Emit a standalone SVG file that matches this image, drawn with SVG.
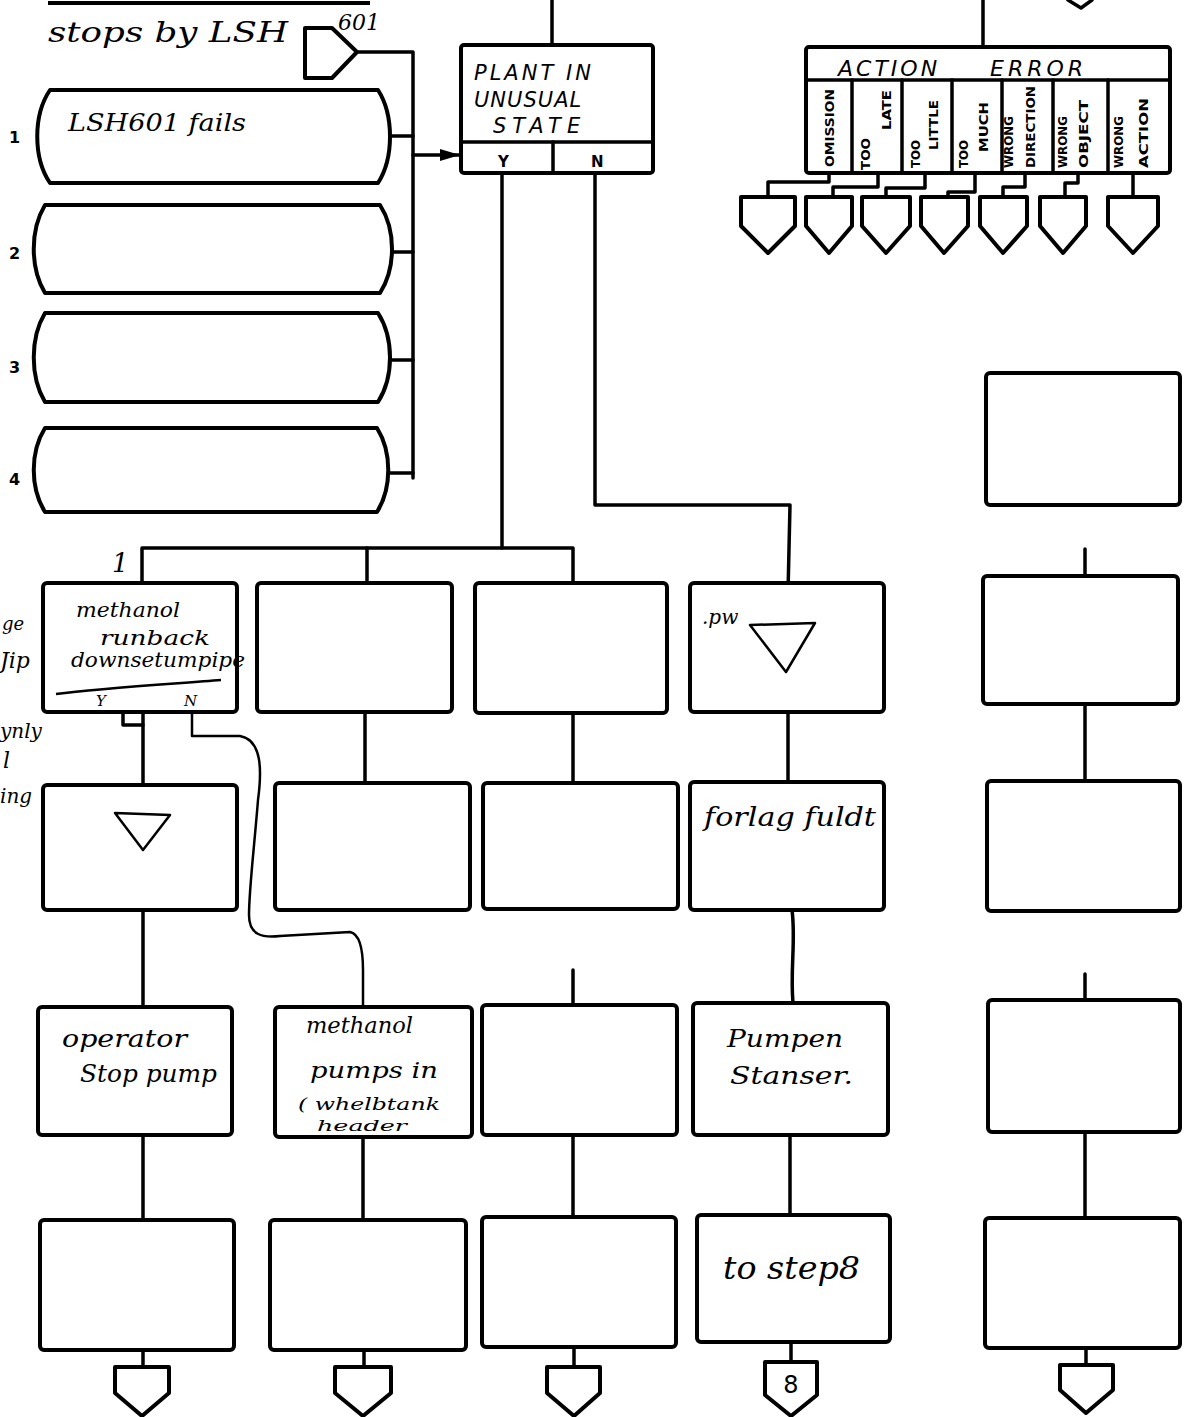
<svg xmlns="http://www.w3.org/2000/svg" width="1187" height="1417" viewBox="0 0 1187 1417">
<defs>
<style>
.b{fill:#fff;stroke:#000;stroke-width:4;stroke-linejoin:round}
.l{fill:none;stroke:#000;stroke-width:3.5;stroke-linejoin:round;stroke-linecap:round}
.t{fill:none;stroke:#000;stroke-width:2.5;stroke-linejoin:round}
.h{font-family:"DejaVu Serif","Liberation Serif",serif;font-style:italic;fill:#000}
.p{font-family:"DejaVu Sans","Liberation Sans",sans-serif;fill:#000}
.v{font-family:"DejaVu Sans","Liberation Sans",sans-serif;font-weight:bold;font-size:12px;fill:#000}
</style>
<marker id="ah" viewBox="0 0 20 12" refX="20" refY="6" markerWidth="20" markerHeight="12" markerUnits="userSpaceOnUse" orient="auto">
<path d="M0,0 L20,6 L0,12 Z" fill="#000"/>
</marker>
</defs>
<rect width="1187" height="1417" fill="#fff"/>

<line x1="48" y1="3" x2="370" y2="3" stroke="#000" stroke-width="4"/>
<text class="h" x="48" y="42" font-size="28" textLength="240" lengthAdjust="spacingAndGlyphs">stops by LSH</text>
<text class="h" x="338" y="30" font-size="22">601</text>

<g id="connectors">
<polyline class="l" points="357,52 413,52 413,478"/>
<line class="l" x1="391" y1="136" x2="413" y2="136"/>
<line class="l" x1="392" y1="252" x2="413" y2="252"/>
<line class="l" x1="390" y1="360" x2="413" y2="360"/>
<line class="l" x1="387" y1="473" x2="413" y2="473"/>
<line class="l" x1="413" y1="155" x2="460" y2="155" marker-end="url(#ah)"/>
<line class="l" x1="552" y1="0" x2="552" y2="45"/>
<polyline class="l" points="502,173 502,548"/>
<polyline class="l" points="142,583 142,548 573,548 573,583"/>
<line class="l" x1="367" y1="548" x2="367" y2="583"/>
<polyline class="l" points="595,173 595,505 790,505 787,637"/>
<line class="l" x1="983" y1="0" x2="983" y2="47"/>
<polyline class="l" points="1068,0 1081,8 1092,0"/>
<polyline class="l" points="829,173 829,182 768,182 768,197"/>
<polyline class="l" points="878,173 878,187 833,187 833,197"/>
<polyline class="l" points="925,173 925,188 886,188 886,197"/>
<polyline class="l" points="975,173 975,192 948,192 948,197"/>
<polyline class="l" points="1025,173 1025,187 1003,187 1003,197"/>
<polyline class="l" points="1078,173 1078,183 1065,183 1065,197"/>
<line class="l" x1="1133" y1="173" x2="1133" y2="197"/>
<line class="l" x1="143" y1="688" x2="143" y2="1007"/>
<polyline class="l" points="123,714 123,725 143,725"/>
<path class="t" d="M192,712 V736 H240 C262,740 262,770 258,800 C254,850 249,890 249,915 C249,935 262,938 280,936 L350,932 C360,934 363,950 363,970 V1007"/>
<line class="l" x1="143" y1="1135" x2="143" y2="1220"/>
<line class="l" x1="143" y1="1350" x2="143" y2="1367"/>
<line class="l" x1="365" y1="712" x2="365" y2="783"/>
<line class="l" x1="363" y1="1137" x2="363" y2="1220"/>
<line class="l" x1="364" y1="1350" x2="364" y2="1367"/>
<line class="l" x1="573" y1="713" x2="573" y2="783"/>
<line class="l" x1="573" y1="970" x2="573" y2="1005"/>
<line class="l" x1="573" y1="1135" x2="573" y2="1217"/>
<line class="l" x1="574" y1="1347" x2="574" y2="1367"/>
<line class="l" x1="788" y1="712" x2="788" y2="782"/>
<path class="l" d="M792,910 C796,940 790,970 793,1003"/>
<line class="l" x1="790" y1="1135" x2="790" y2="1215"/>
<line class="l" x1="791" y1="1342" x2="791" y2="1362"/>
<line class="l" x1="1085" y1="549" x2="1085" y2="576"/>
<line class="l" x1="1085" y1="704" x2="1085" y2="781"/>
<line class="l" x1="1085" y1="974" x2="1085" y2="1000"/>
<line class="l" x1="1085" y1="1132" x2="1085" y2="1218"/>
<line class="l" x1="1086" y1="1348" x2="1086" y2="1365"/>
</g>

<g id="offpage-601">
<path class="b" d="M305,28 H332 L357,52 L332,78 H305 Z"/>
</g>

<g id="input-1">
<path class="b" d="M50,90 H378 C394,115 394,158 378,183 H50 C33,158 33,115 50,90 Z"/>
<text class="p" x="9" y="143" font-size="16" font-weight="bold">1</text>
<text class="h" x="68" y="131" font-size="24" textLength="178" lengthAdjust="spacingAndGlyphs">LSH601   fails</text>
</g>
<g id="input-2">
<path class="b" d="M45,205 H380 C396,230 396,268 380,293 H45 C30,268 30,230 45,205 Z"/>
<text class="p" x="9" y="259" font-size="16" font-weight="bold">2</text>
</g>
<g id="input-3">
<path class="b" d="M45,313 H378 C394,338 394,377 378,402 H45 C30,377 30,338 45,313 Z"/>
<text class="p" x="9" y="373" font-size="16" font-weight="bold">3</text>
</g>
<g id="input-4">
<path class="b" d="M45,428 H377 C392,452 392,488 377,512 H45 C30,488 30,452 45,428 Z"/>
<text class="p" x="9" y="485" font-size="16" font-weight="bold">4</text>
</g>

<g id="plant-state">
<rect class="b" x="461" y="45" width="192" height="128" rx="3"/>
<line class="l" x1="461" y1="142" x2="653" y2="142"/>
<line class="l" x1="553" y1="142" x2="553" y2="173"/>
<text class="p" x="474" y="80" font-size="21" letter-spacing="3" font-style="italic">PLANT IN</text>
<text class="p" x="474" y="107" font-size="21" letter-spacing="1" font-style="italic">UNUSUAL</text>
<text class="p" x="493" y="133" font-size="21" letter-spacing="6" font-style="italic">STATE</text>
<text class="p" x="498" y="167" font-size="15" font-weight="bold">Y</text>
<text class="p" x="591" y="167" font-size="15" font-weight="bold">N</text>
</g>

<g id="action-error">
<rect class="b" x="806" y="47" width="364" height="126" rx="3"/>
<line class="l" x1="806" y1="80" x2="1170" y2="80"/>
<line class="l" x1="852" y1="80" x2="852" y2="173"/>
<line class="l" x1="902" y1="80" x2="902" y2="173"/>
<line class="l" x1="952" y1="80" x2="952" y2="173"/>
<line class="l" x1="1002" y1="80" x2="1002" y2="173"/>
<line class="l" x1="1053" y1="80" x2="1053" y2="173"/>
<line class="l" x1="1108" y1="80" x2="1108" y2="173"/>
<text class="p" x="838" y="76" font-size="22" letter-spacing="3" font-style="italic">ACTION</text>
<text class="p" x="990" y="76" font-size="22" letter-spacing="4" font-style="italic">ERROR</text>
<text class="v" transform="translate(834,167) rotate(-90)" textLength="78" lengthAdjust="spacingAndGlyphs">OMISSION</text>
<text class="v" transform="translate(870,170) rotate(-90)" textLength="32" lengthAdjust="spacingAndGlyphs">TOO</text>
<text class="v" transform="translate(891,130) rotate(-90)" textLength="40" lengthAdjust="spacingAndGlyphs">LATE</text>
<text class="v" transform="translate(920,168) rotate(-90)" textLength="28" lengthAdjust="spacingAndGlyphs">TOO</text>
<text class="v" transform="translate(938,150) rotate(-90)" textLength="50" lengthAdjust="spacingAndGlyphs">LITTLE</text>
<text class="v" transform="translate(968,168) rotate(-90)" textLength="28" lengthAdjust="spacingAndGlyphs">TOO</text>
<text class="v" transform="translate(988,152) rotate(-90)" textLength="50" lengthAdjust="spacingAndGlyphs">MUCH</text>
<text class="v" transform="translate(1013,168) rotate(-90)" textLength="52" lengthAdjust="spacingAndGlyphs">WRONG</text>
<text class="v" transform="translate(1035,168) rotate(-90)" textLength="82" lengthAdjust="spacingAndGlyphs">DIRECTION</text>
<text class="v" transform="translate(1067,168) rotate(-90)" textLength="52" lengthAdjust="spacingAndGlyphs">WRONG</text>
<text class="v" transform="translate(1088,168) rotate(-90)" textLength="68" lengthAdjust="spacingAndGlyphs">OBJECT</text>
<text class="v" transform="translate(1123,168) rotate(-90)" textLength="52" lengthAdjust="spacingAndGlyphs">WRONG</text>
<text class="v" transform="translate(1148,168) rotate(-90)" textLength="70" lengthAdjust="spacingAndGlyphs">ACTION</text>
</g>

<g id="error-outlets">
<path class="b" d="M741,197 H795 V226 L768,253 L741,226 Z"/>
<path class="b" d="M806,197 H852 V226 L829,253 L806,226 Z"/>
<path class="b" d="M862,197 H910 V226 L886,253 L862,226 Z"/>
<path class="b" d="M921,197 H968 V226 L944,253 L921,226 Z"/>
<path class="b" d="M980,197 H1027 V226 L1003,253 L980,226 Z"/>
<path class="b" d="M1040,197 H1086 V226 L1063,253 L1040,226 Z"/>
<path class="b" d="M1108,197 H1158 V226 L1133,253 L1108,226 Z"/>
</g>

<g id="right-box-top">
<rect class="b" x="986" y="373" width="194" height="132" rx="4"/>
</g>

<g id="step-1">
<rect class="b" x="43" y="583" width="194" height="129" rx="4"/>
<text class="h" x="112" y="572" font-size="26">1</text>
<text class="h" x="76" y="617" font-size="20" textLength="104" lengthAdjust="spacingAndGlyphs">methanol</text>
<text class="h" x="100" y="645" font-size="20" textLength="110" lengthAdjust="spacingAndGlyphs">runback</text>
<text class="h" x="71" y="667" font-size="20" textLength="174" lengthAdjust="spacingAndGlyphs">downsetumpipe</text>
<path class="t" d="M56,694 C100,688 170,684 221,680"/>
<text class="h" x="96" y="706" font-size="15">Y</text>
<text class="h" x="184" y="706" font-size="15">N</text>
</g>
<g id="margin-notes">
<text class="h" x="2" y="630" font-size="18">ge</text>
<text class="h" x="0" y="668" font-size="22">Jip</text>
<text class="h" x="0" y="738" font-size="20">ynly</text>
<text class="h" x="3" y="768" font-size="22">l</text>
<text class="h" x="0" y="803" font-size="20">ing</text>
</g>
<g id="step-1b"><rect class="b" x="257" y="583" width="195" height="129" rx="4"/></g>
<g id="step-1c"><rect class="b" x="475" y="583" width="192" height="130" rx="4"/></g>
<g id="step-1d">
<rect class="b" x="690" y="583" width="194" height="129" rx="4"/>
<text class="h" x="702" y="624" font-size="20">.pw</text>
<polygon class="t" points="750,625 815,623 786,672"/>
</g>
<g id="step-1e"><rect class="b" x="983" y="576" width="195" height="128" rx="4"/></g>

<g id="step-2a">
<rect class="b" x="43" y="785" width="194" height="125" rx="4"/>
<polygon class="t" points="115,813 170,815 143,850"/>
</g>
<g id="step-2b"><rect class="b" x="275" y="783" width="195" height="127" rx="4"/></g>
<g id="step-2c"><rect class="b" x="483" y="783" width="195" height="126" rx="4"/></g>
<g id="step-2d">
<rect class="b" x="690" y="782" width="194" height="128" rx="4"/>
<text class="h" x="704" y="826" font-size="26" textLength="172" lengthAdjust="spacingAndGlyphs">forlag fuldt</text>
</g>
<g id="step-2e"><rect class="b" x="987" y="781" width="193" height="130" rx="4"/></g>

<g id="step-3a">
<rect class="b" x="38" y="1007" width="194" height="128" rx="4"/>
<text class="h" x="62" y="1047" font-size="24" textLength="125" lengthAdjust="spacingAndGlyphs">operator</text>
<text class="h" x="80" y="1082" font-size="24" textLength="137" lengthAdjust="spacingAndGlyphs">Stop pump</text>
</g>
<g id="step-3b">
<rect class="b" x="275" y="1007" width="197" height="130" rx="4"/>
<text class="h" x="306" y="1033" font-size="22" textLength="107" lengthAdjust="spacingAndGlyphs">methanol</text>
<text class="h" x="310" y="1078" font-size="22" textLength="128" lengthAdjust="spacingAndGlyphs">pumps in</text>
<text class="h" x="298" y="1110" font-size="17" textLength="142" lengthAdjust="spacingAndGlyphs">( whelbtank</text>
<text class="h" x="317" y="1131" font-size="14" textLength="90" lengthAdjust="spacingAndGlyphs">header</text>
</g>
<g id="step-3c"><rect class="b" x="482" y="1005" width="195" height="130" rx="4"/></g>
<g id="step-3d">
<rect class="b" x="693" y="1003" width="195" height="132" rx="4"/>
<text class="h" x="727" y="1047" font-size="24" textLength="116" lengthAdjust="spacingAndGlyphs">Pumpen</text>
<text class="h" x="730" y="1084" font-size="24" textLength="123" lengthAdjust="spacingAndGlyphs">Stanser.</text>
</g>
<g id="step-3e"><rect class="b" x="988" y="1000" width="192" height="132" rx="4"/></g>

<g id="step-4a"><rect class="b" x="40" y="1220" width="194" height="130" rx="4"/></g>
<g id="step-4b"><rect class="b" x="270" y="1220" width="196" height="130" rx="4"/></g>
<g id="step-4c"><rect class="b" x="482" y="1217" width="194" height="130" rx="4"/></g>
<g id="step-4d">
<rect class="b" x="697" y="1215" width="193" height="127" rx="4"/>
<text class="h" x="723" y="1279" font-size="32" textLength="137" lengthAdjust="spacingAndGlyphs">to step8</text>
</g>
<g id="step-4e"><rect class="b" x="985" y="1218" width="195" height="130" rx="4"/></g>

<g id="outlets-bottom">
<path class="b" d="M115,1367 H169 V1393 L142,1416 L115,1393 Z"/>
<path class="b" d="M335,1367 H391 V1393 L363,1416 L335,1393 Z"/>
<path class="b" d="M547,1367 H600 V1393 L574,1416 L547,1393 Z"/>
<path class="b" d="M765,1362 H817 V1395 L791,1416 L765,1395 Z"/>
<text class="p" x="791" y="1393" font-size="24" text-anchor="middle">8</text>
<path class="b" d="M1060,1365 H1113 V1390 L1086,1413 L1060,1390 Z"/>
</g>
</svg>
